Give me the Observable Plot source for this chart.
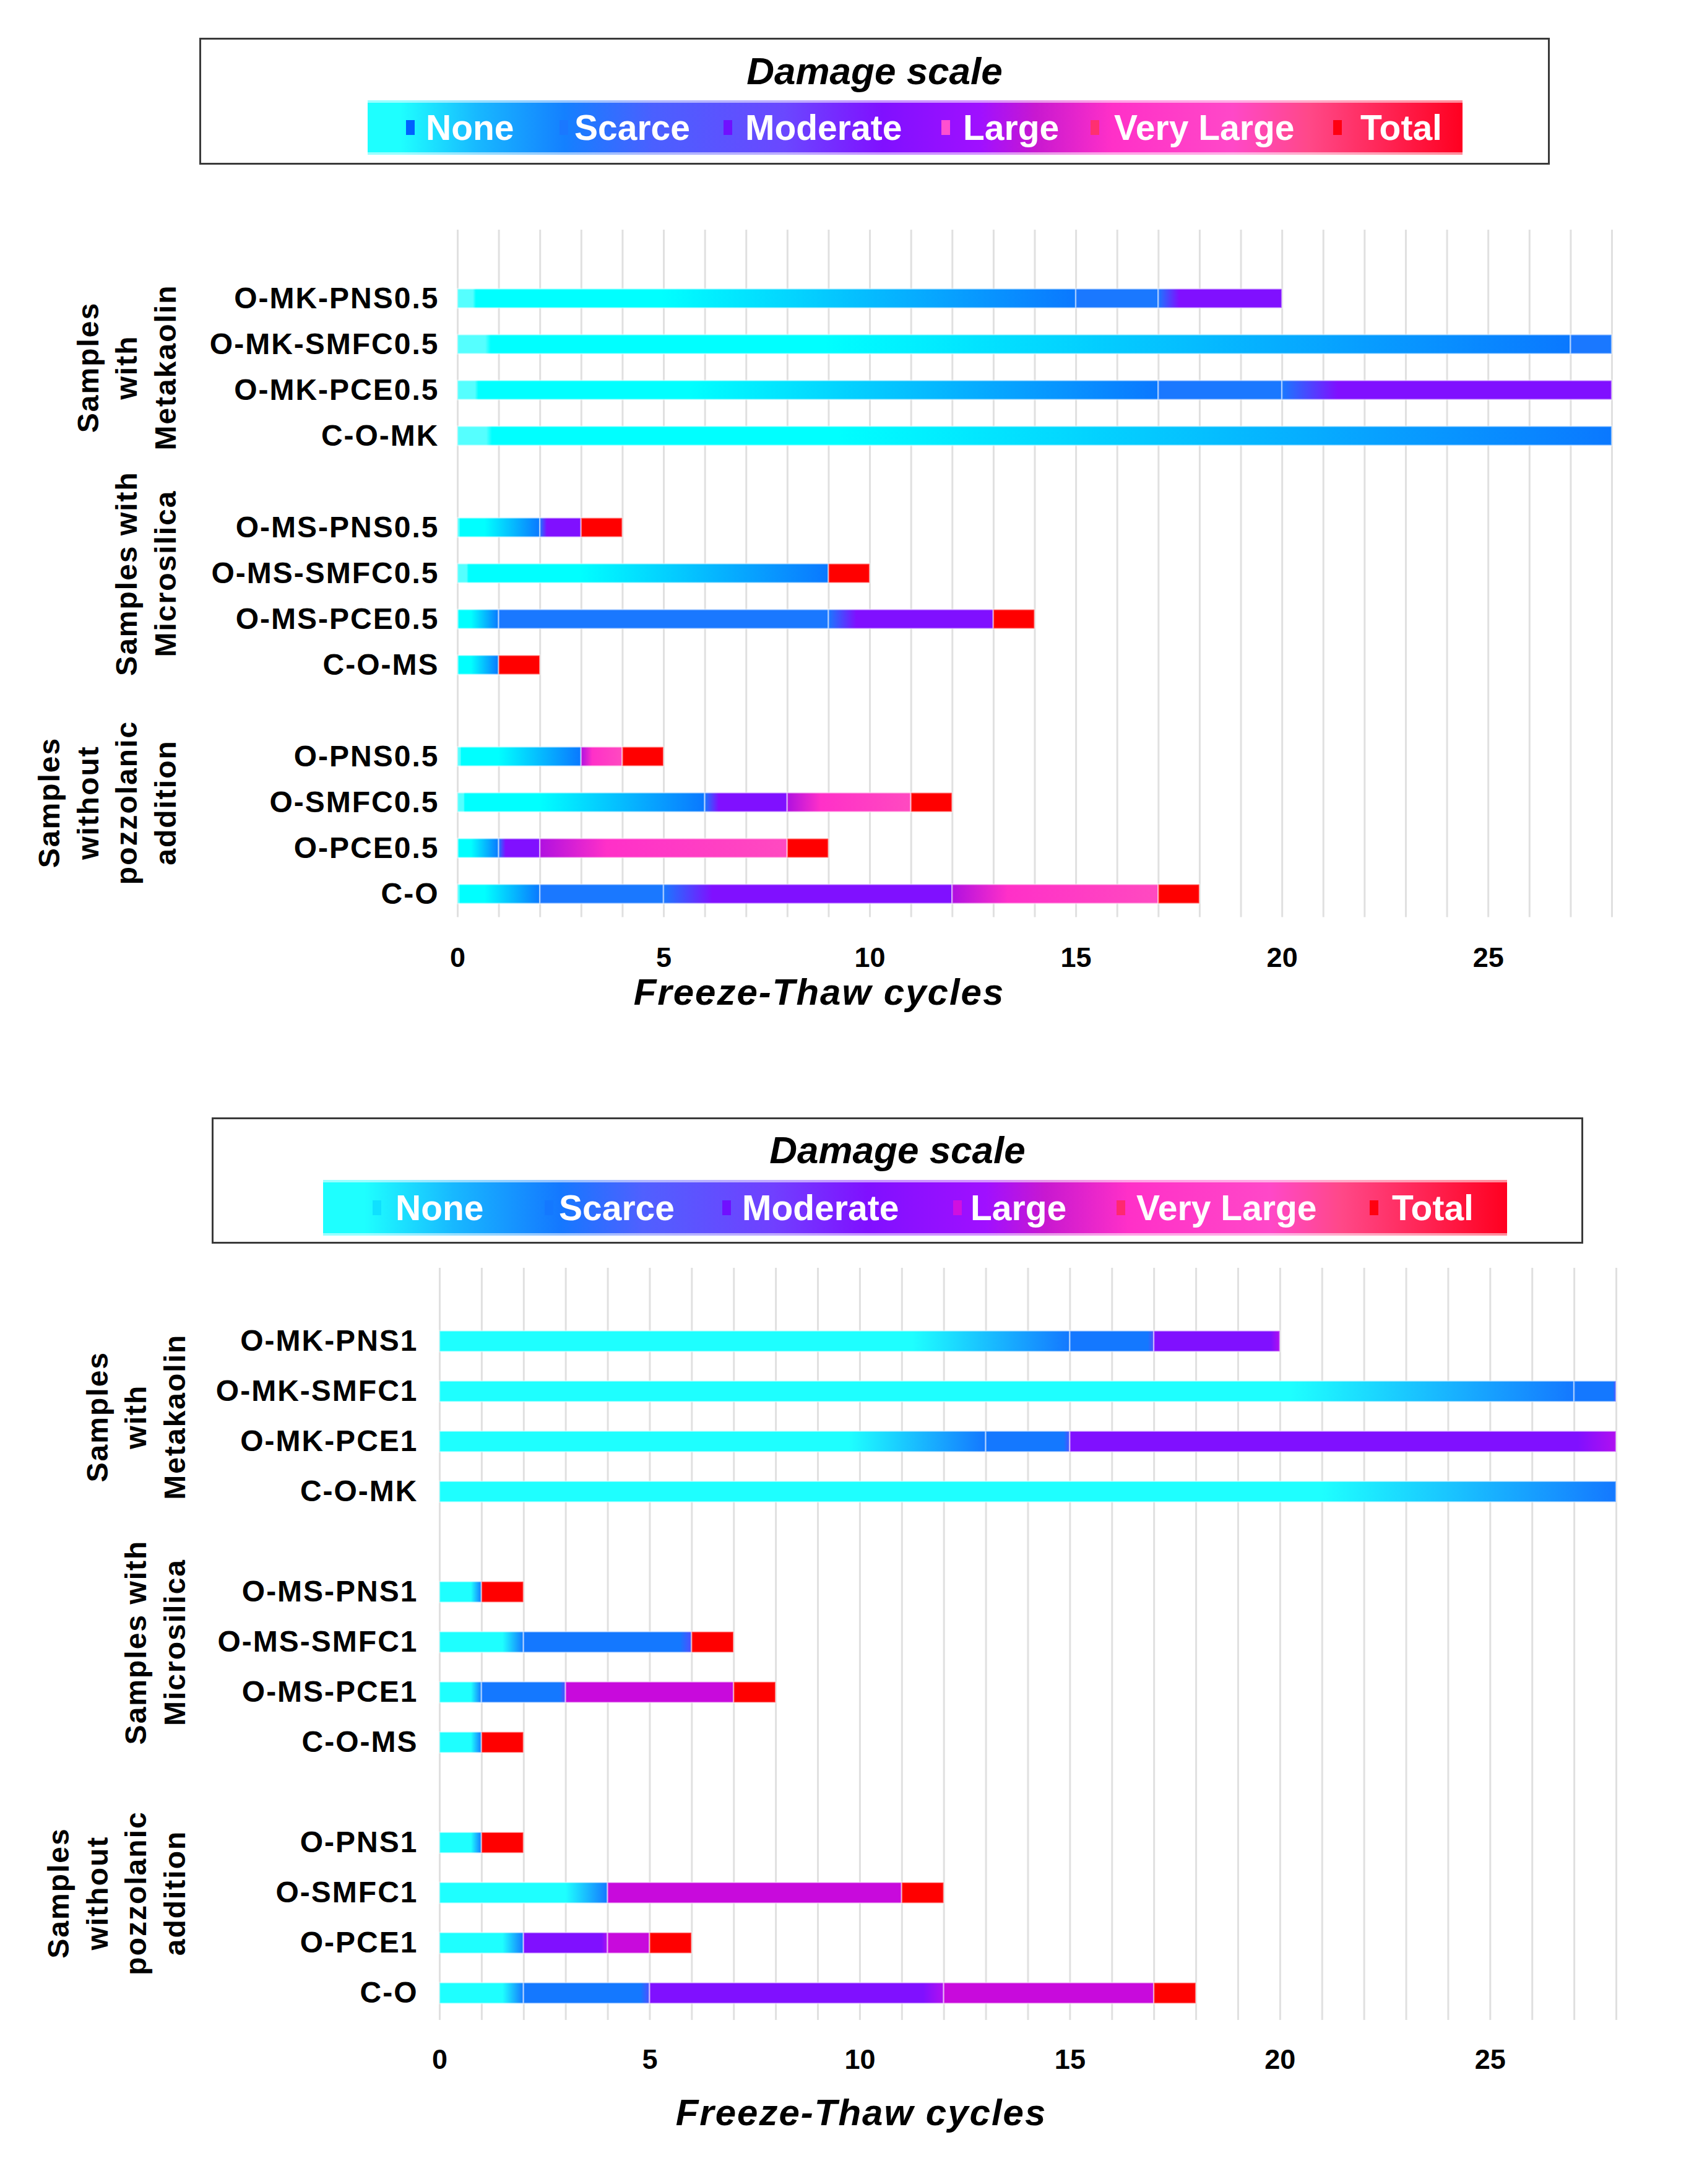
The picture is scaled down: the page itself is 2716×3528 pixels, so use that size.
<!DOCTYPE html>
<html>
<head>
<meta charset="utf-8">
<script src="https://cdn.jsdelivr.net/npm/d3@7"></script>
<script src="https://cdn.jsdelivr.net/npm/@observablehq/plot@0.6"></script>
<style>
  html, body { margin: 0; padding: 0; background: #fff; overflow: hidden; }
  #page { position: relative; width: 2716px; height: 3528px; background: #fff; overflow: hidden;
          font-family: "Liberation Sans", Arial, sans-serif; }
  .lbox { position: absolute; box-sizing: border-box; border: 3px solid #3a3a3a; background: #fff; }
  .ltitle { position: absolute; text-align: center; font-weight: bold; font-style: italic;
            font-size: 62px; line-height: 62px; color: #000; white-space: nowrap; }
  .lbar { position: absolute; box-sizing: border-box; border-top: 4px solid rgba(255,255,255,0.55);
          border-bottom: 4px solid rgba(255,255,255,0.55); }
  .llab { position: absolute; top: 50%; transform: translateY(-50%); color: #fff; font-weight: bold;
          font-size: 57px; line-height: 1; white-space: nowrap; }
  .lmk { position: absolute; top: 50%; width: 14px; height: 24px; transform: translateY(-50%); }
  .chart { position: absolute; left: 0; }
  .chart g[aria-label="y-axis tick label"] text, .chart g[aria-label="text"] text { letter-spacing: 2px; }
</style>
</head>
<body>
<div id="page"></div>
<script>
// ---------------- DATA ----------------
const levels = ["None", "Scarce", "Moderate", "Large", "Very Large", "Total"];
const xTicks = [0, 5, 10, 15, 20, 25];
const gridCycles = [0,1,2,3,4,5,6,7,8,9,10,11,12,13,14,15,16,17,18,19,20,21,22,23,24,25,26,27,28];

// Top chart (0.5 % admixture)
const topSamples = ["O-MK-PNS0.5", "O-MK-SMFC0.5", "O-MK-PCE0.5", "C-O-MK",
                    "O-MS-PNS0.5", "O-MS-SMFC0.5", "O-MS-PCE0.5", "C-O-MS",
                    "O-PNS0.5", "O-SMFC0.5", "O-PCE0.5", "C-O"];
const topNone      = [15, 27, 17, 28, 2, 9, 1, 1, 3, 6, 1, 2];
const topScarce    = [2, 1, 3, 0, 0, 0, 8, 0, 0, 0, 0, 3];
const topModerate  = [3, 0, 8, 0, 1, 0, 4, 0, 0, 2, 1, 7];
const topLarge     = [0, 0, 0, 0, 0, 0, 0, 0, 1, 3, 6, 5];
const topVeryLarge = [0, 0, 0, 0, 0, 0, 0, 0, 0, 0, 0, 0];
const topTotal     = [0, 0, 0, 0, 1, 1, 1, 1, 1, 1, 1, 1];

// Bottom chart (1 % admixture)
const botSamples = ["O-MK-PNS1", "O-MK-SMFC1", "O-MK-PCE1", "C-O-MK",
                    "O-MS-PNS1", "O-MS-SMFC1", "O-MS-PCE1", "C-O-MS",
                    "O-PNS1", "O-SMFC1", "O-PCE1", "C-O"];
const botNone      = [15, 27, 13, 28, 1, 2, 1, 1, 1, 4, 2, 2];
const botScarce    = [2, 1, 2, 0, 0, 4, 2, 0, 0, 0, 0, 3];
const botModerate  = [3, 0, 13, 0, 0, 0, 0, 0, 0, 0, 2, 7];
const botLarge     = [0, 0, 0, 0, 0, 0, 4, 0, 0, 7, 1, 5];
const botVeryLarge = [0, 0, 0, 0, 0, 0, 0, 0, 0, 0, 0, 0];
const botTotal     = [0, 0, 0, 0, 1, 1, 1, 1, 1, 1, 1, 1];

const groupLabels = ["Samples\nwith\nMetakaolin", "Samples with\nMicrosilica", "Samples\nwithout\npozzolanic\naddition"];
const legendTitle = "Damage scale";
const axisTitle = "Freeze-Thaw cycles";

// ---------------- STYLES (gradients) ----------------
const gradTop = [
  [[0, "#55FFFF"], [0.025, "#55FFFF"], [0.03, "#00FFFF"], [0.33, "#00FFFF"], [1, "#0A78FF"]],
  [[0, "#1A78FF"], [1, "#1A78FF"]],
  [[0, "#1A78FF"], [0.17, "#8010FF"], [1, "#8010FF"]],
  [[0, "#B010E0"], [0.27, "#FF30C8"], [1, "#FF4AC0"]],
  [[0, "#FF40B0"], [1, "#FF40B0"]],
  [[0, "#FF0000"], [1, "#FF0000"]]
];
const gradBot = [
  [[0, "#1EFFFF"], [0.75, "#1EFFFF"], [1, "#1478FF"]],
  [[0, "#1478FF"], [0.93, "#1478FF"], [1, "#5050FF"]],
  [[0, "#8010FF"], [0.93, "#8010FF"], [1, "#B010F0"]],
  [[0, "#C80ADC"], [1, "#C80ADC"]],
  [[0, "#FF30C0"], [1, "#FF30C0"]],
  [[0, "#FF0000"], [1, "#FF0000"]]
];

const page = document.getElementById("page");

// gradient definitions
const ns = "http://www.w3.org/2000/svg";
const defsSvg = document.createElementNS(ns, "svg");
defsSvg.setAttribute("width", 0); defsSvg.setAttribute("height", 0);
defsSvg.style.position = "absolute";
const defs = document.createElementNS(ns, "defs");
defsSvg.appendChild(defs);
[["gt", gradTop], ["gb", gradBot]].forEach(([p, g]) => {
  g.forEach((stops, i) => {
    const lg = document.createElementNS(ns, "linearGradient");
    lg.setAttribute("id", p + i);
    lg.setAttribute("x1", "0"); lg.setAttribute("x2", "1");
    lg.setAttribute("y1", "0"); lg.setAttribute("y2", "0");
    stops.forEach(([o, c]) => {
      const s = document.createElementNS(ns, "stop");
      s.setAttribute("offset", o); s.setAttribute("stop-color", c);
      lg.appendChild(s);
    });
    defs.appendChild(lg);
  });
});
page.appendChild(defsSvg);

// ---------------- CHARTS ----------------
function makeChart(cfg) {
  const rows = [];
  cfg.series.forEach((vals, li) => vals.forEach((v, si) => {
    if (v > 0) rows.push({sample: cfg.samples[si], li, level: levels[li], cycles: v});
  }));
  const yDomain = [...cfg.samples.slice(0, 4), "gap1", ...cfg.samples.slice(4, 8), "gap2", ...cfg.samples.slice(8)];
  const groups = groupLabels.map((label, i) => ({label, i, row: [cfg.samples[1], cfg.samples[5], cfg.samples[9]][i]}));
  const txt = {frameAnchor: "left", rotate: -90, lineAnchor: "bottom", textAnchor: "middle",
               fontSize: 48, fontWeight: "bold", lineHeight: 1.3, fill: "black", y: "row", text: "label", dx: cfg.groupDx};
  const svg = Plot.plot({
    width: 2716, height: cfg.height,
    marginLeft: cfg.ml, marginRight: cfg.mr, marginTop: cfg.mt, marginBottom: cfg.mb,
    style: {fontFamily: '"Liberation Sans", Arial, sans-serif', background: "transparent", color: "black", overflow: "visible"},
    x: {domain: [0, 28]},
    y: {domain: yDomain, padding: 0, insetTop: cfg.insetTop},
    color: {type: "identity"},
    marks: [
      Plot.gridX(gridCycles, {stroke: "#e0e0e0", strokeOpacity: 1, strokeWidth: 3}),
      Plot.barX(rows, {x: "cycles", y: "sample", fill: d => `url(#${cfg.prefix}${d.li})`,
        stroke: "white", strokeOpacity: 0.45, strokeWidth: 2.5,
        insetTop: cfg.barInset, insetBottom: cfg.barInset}),
      Plot.axisX(xTicks, {tickSize: 0, tickPadding: cfg.xPad, fontSize: 45, fontWeight: "bold", label: null, fill: "black"}),
      Plot.axisY({tickSize: 0, tickPadding: cfg.yPad, fontSize: 48, fontWeight: "bold", label: null, fill: "black",
        tickFormat: d => d.startsWith("gap") ? "" : d}),
      Plot.text(groups.filter(d => d.i === 0), {...txt, dy: cfg.step / 2}),
      Plot.text(groups.filter(d => d.i > 0), {...txt, dy: 0}),
      Plot.text([axisTitle], {text: d => d, frameAnchor: "bottom", lineAnchor: "middle", dx: cfg.titleDx, dy: cfg.titleDy,
        fontSize: 60, fontWeight: "bold", fontStyle: "italic", fill: "black"})
    ]
  });
  const wrap = document.createElement("div");
  wrap.className = "chart";
  wrap.style.top = cfg.top + "px";
  wrap.appendChild(svg);
  page.appendChild(wrap);
}

makeChart({
  prefix: "gt", samples: topSamples,
  series: [topNone, topScarce, topModerate, topLarge, topVeryLarge, topTotal],
  top: 300, height: 1380, ml: 739, mr: 112, mt: 71, mb: 198.4, insetTop: 73.5,
  step: 74.08, barInset: 21.5, xPad: 48, yPad: 30, groupDx: -456, titleDx: -348.5, titleDy: 122
});
makeChart({
  prefix: "gb", samples: botSamples,
  series: [botNone, botScarce, botModerate, botLarge, botVeryLarge, botTotal],
  top: 2020, height: 1480, ml: 710, mr: 105, mt: 28, mb: 237, insetTop: 75.3,
  step: 81.4, barInset: 23.7, xPad: 47, yPad: 35, groupDx: -412, titleDx: -269.5, titleDy: 150
});

// ---------------- LEGENDS ----------------
function makeLegend(cfg) {
  const box = document.createElement("div");
  box.className = "lbox";
  Object.assign(box.style, {left: cfg.box[0] + "px", top: cfg.box[1] + "px", width: cfg.box[2] + "px", height: cfg.box[3] + "px"});
  page.appendChild(box);
  const t = document.createElement("div");
  t.className = "ltitle";
  t.textContent = legendTitle;
  Object.assign(t.style, {left: cfg.box[0] + "px", width: cfg.box[2] + "px", top: (cfg.titleY - 31) + "px"});
  page.appendChild(t);
  const bar = document.createElement("div");
  bar.className = "lbar";
  Object.assign(bar.style, {left: cfg.bar[0] + "px", top: cfg.bar[1] + "px", width: cfg.bar[2] + "px", height: cfg.bar[3] + "px", background: cfg.gradient});
  page.appendChild(bar);
  levels.forEach((lv, i) => {
    const m = document.createElement("div");
    m.className = "lmk";
    Object.assign(m.style, {left: cfg.markers[i] + "px", background: cfg.markerColors[i]});
    bar.appendChild(m);
    const l = document.createElement("div");
    l.className = "llab";
    l.textContent = lv;
    l.style.left = cfg.labels[i] + "px";
    bar.appendChild(l);
  });
}

makeLegend({
  box: [322, 61, 2182, 205], titleY: 115, bar: [594, 162, 1769, 88],
  gradient: "linear-gradient(to right, #1EFFFF 0%, #1EFFFF 3%, #18B8FF 10%, #1480FF 18%, #4A60FF 26%, #6A48FF 38%, #8010FF 47%, #A010FF 56%, #C818D0 61%, #FF30C8 68%, #FF48C8 79%, #FF4888 86%, #FF0020 100%)",
  labels: [94, 334, 610, 962, 1206, 1604],
  markers: [62, 310, 575, 927, 1168, 1560],
  markerColors: ["#0060FF", "#1A78FF", "#7010FF", "#FF50D0", "#FF3070", "#FF0010"]
});
makeLegend({
  box: [342, 1805, 2216, 204], titleY: 1858, bar: [522, 1906, 1913, 90],
  gradient: "linear-gradient(to right, #1EFFFF 0%, #1EFFFF 3.5%, #18B8FF 11%, #1478FF 20%, #5060FF 27%, #7040FF 38%, #8010FF 46%, #A010FF 56%, #C818D0 61%, #FF30C8 68%, #FF48C8 80%, #FF4888 86%, #FF0020 100%)",
  labels: [117, 381, 677, 1046, 1314, 1727],
  markers: [80, 358, 645, 1018, 1282, 1691],
  markerColors: ["#10E0FF", "#1478FF", "#7010FF", "#D010E0", "#FF2870", "#FF0010"]
});
</script>
</body>
</html>
